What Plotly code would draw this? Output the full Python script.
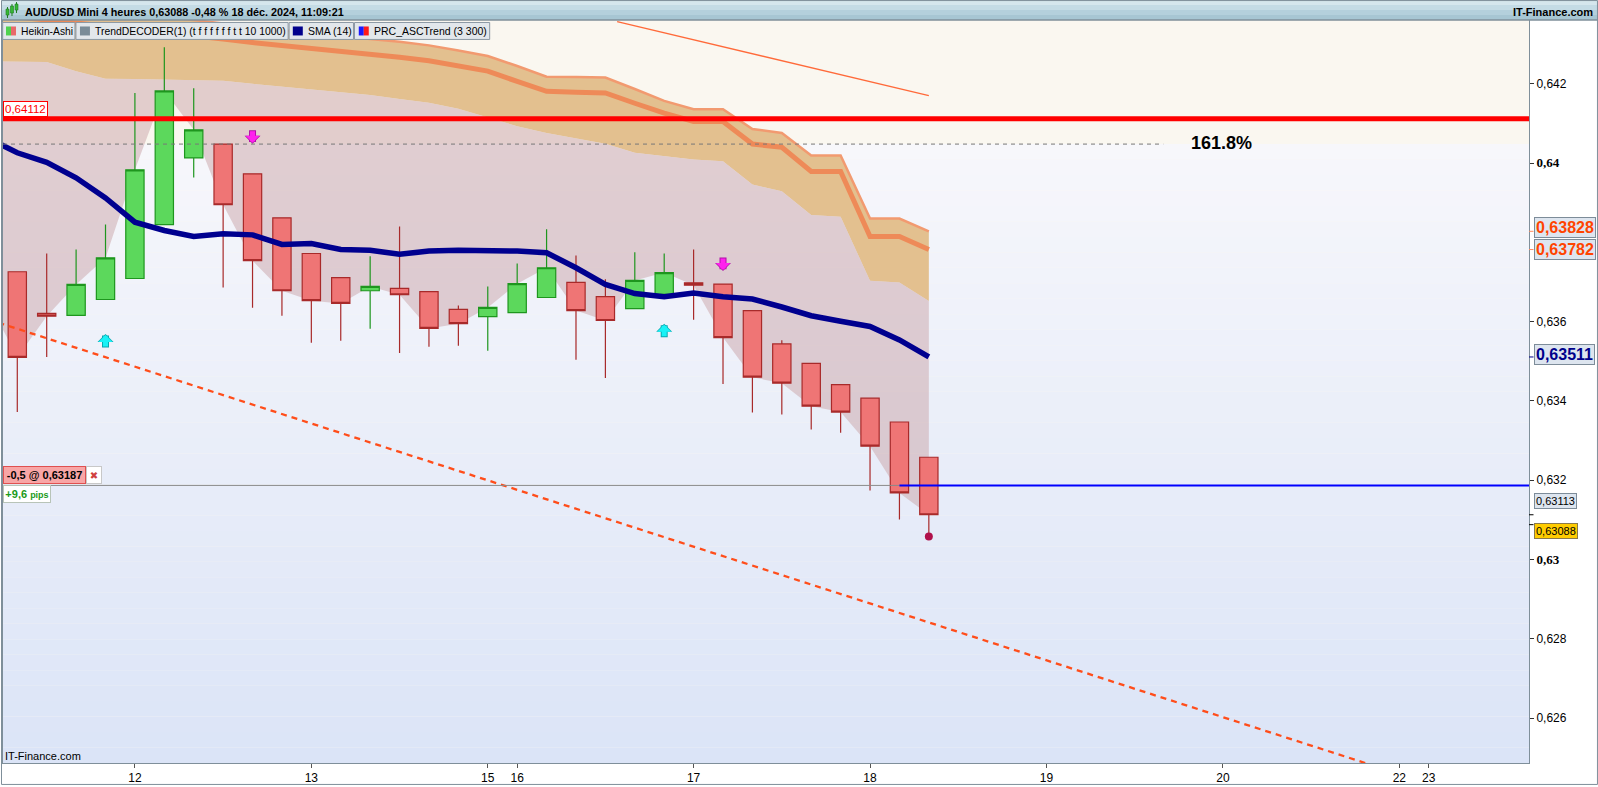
import plotly.graph_objects as go

# ---------------- data ----------------
candle_index = list(range(-1, 32))   # 4-hour Heikin-Ashi candles, index 0 = first visible candle

ha_open = [0.63799, 0.63726, 0.63621, 0.63616, 0.63656, 0.63709, 0.63845, 0.64013, 0.64048, 0.63973,
           0.63862, 0.63772, 0.63711, 0.63678, 0.63684, 0.63676, 0.63631, 0.63613, 0.63623, 0.63661,
           0.63699, 0.63663, 0.63633, 0.63669, 0.63698, 0.63695, 0.63628, 0.63544, 0.63495, 0.63441,
           0.63407, 0.63347, 0.63258]
ha_high = [0.63799, 0.63726, 0.63772, 0.63782, 0.63845, 0.64177, 0.64292, 0.64189, 0.64048, 0.63973,
           0.63862, 0.63772, 0.63711, 0.63765, 0.63840, 0.63676, 0.63641, 0.63689, 0.63747, 0.63833,
           0.63767, 0.63707, 0.63775, 0.63772, 0.63782, 0.63695, 0.63628, 0.63553, 0.63495, 0.63441,
           0.63407, 0.63347, 0.63258]
ha_low = [0.63600, 0.63372, 0.63511, 0.63616, 0.63656, 0.63709, 0.63845, 0.63964, 0.63686, 0.63635,
          0.63615, 0.63547, 0.63552, 0.63582, 0.63521, 0.63537, 0.63539, 0.63527, 0.63623, 0.63661,
          0.63504, 0.63458, 0.63633, 0.63669, 0.63605, 0.63443, 0.63371, 0.63366, 0.63328, 0.63320,
          0.63174, 0.63101, 0.63062]
ha_close = [0.63653, 0.63510, 0.63614, 0.63694, 0.63761, 0.63983, 0.64182, 0.64084, 0.63895, 0.63754,
            0.63678, 0.63653, 0.63646, 0.63689, 0.63668, 0.63583, 0.63595, 0.63636, 0.63696, 0.63736,
            0.63628, 0.63603, 0.63704, 0.63724, 0.63692, 0.63560, 0.63460, 0.63445, 0.63387, 0.63372,
            0.63286, 0.63168, 0.63113]

sma14 = [0.64063, 0.64026, 0.64002, 0.63963, 0.63912, 0.63851, 0.63830, 0.63815, 0.63822, 0.63819,
         0.63795, 0.63797, 0.63782, 0.63780, 0.63770, 0.63778, 0.63780, 0.63780, 0.63778, 0.63774,
         0.63736, 0.63694, 0.63671, 0.63663, 0.63672, 0.63663, 0.63657, 0.63637, 0.63615, 0.63601,
         0.63588, 0.63554, 0.63511]

band_upper = [0.64415, 0.64408, 0.64400, 0.64393, 0.64385, 0.64376, 0.64369, 0.64361, 0.64352, 0.64343,
              0.64336, 0.64328, 0.64321, 0.64313, 0.64306, 0.64297, 0.64284, 0.64270, 0.64245, 0.64218,
              0.64217, 0.64216, 0.64187, 0.64157, 0.64136, 0.64136, 0.64086, 0.64076, 0.64019, 0.64019,
              0.63860, 0.63860, 0.63828]
band_mid = [0.64376, 0.64369, 0.64361, 0.64354, 0.64346, 0.64337, 0.64330, 0.64322, 0.64313, 0.64304,
            0.64297, 0.64289, 0.64282, 0.64274, 0.64267, 0.64258, 0.64245, 0.64232, 0.64206, 0.64181,
            0.64179, 0.64177, 0.64151, 0.64126, 0.64105, 0.64105, 0.64048, 0.64040, 0.63979, 0.63979,
            0.63815, 0.63815, 0.63782]
band_lower = [0.64257, 0.64256, 0.64255, 0.64232, 0.64213, 0.64212, 0.64211, 0.64210, 0.64208, 0.64200,
              0.64193, 0.64186, 0.64180, 0.64172, 0.64162, 0.64152, 0.64137, 0.64115, 0.64093, 0.64076,
              0.64063, 0.64049, 0.64026, 0.64017, 0.64009, 0.64005, 0.63946, 0.63929, 0.63869, 0.63865,
              0.63703, 0.63699, 0.63652]

day_tick_index = [4, 10, 16, 17, 23, 29, 35, 41, 47, 48]
day_tick_label = ["12", "13", "15", "16", "17", "18", "19", "20", "22", "23"]

price_ticks = [0.626, 0.628, 0.630, 0.632, 0.634, 0.636, 0.640, 0.642]
price_tick_labels = ["0,626", "0,628", "0,63", "0,632", "0,634", "0,636", "0,64", "0,642"]

resistance_level = 0.64112
fib_level = 0.64048
fib_label = "161.8%"
order_price = 0.63187
order_start_index = 30
trend_dash_index = [-1, 46]
trend_dash_price = [0.63606, 0.62483]
trend_thin_index = [20.4, 31]
trend_thin_price = [0.64357, 0.64170]
up_signal_index = [3, 22]
up_signal_price = [0.63569, 0.63595]
down_signal_index = [8, 24]
down_signal_price = [0.64049, 0.63728]
low_mark_index = [31]
low_mark_price = [0.63058]
last_price = 0.63088

# ---------------- layout helpers ----------------
W, H = 1598, 787
ML, MR, MT, MB = 2, 69, 20, 22
PW, PH = W - ML - MR, H - MT - MB
Y_RANGE = [0.624868, 0.643610]
X_RANGE = [-0.486, 51.41]
FONT = "Liberation Sans, Arial, sans-serif"
FRAME = "#7f8f9a"


def fx(px):
    return (px - ML) / PW


def fy(py):
    return (H - MB - py) / PH


fig = go.Figure()

# ---- base subplot (y): clouds ----
fig.add_trace(go.Scatter(x=candle_index, y=band_lower, mode="lines", line=dict(width=0),
                         hoverinfo="skip", showlegend=False))
fig.add_trace(go.Scatter(x=candle_index, y=band_upper, mode="lines", line=dict(width=0),
                         fill="tonexty", fillcolor="#e3c08f", hoverinfo="skip", showlegend=False))
fig.add_trace(go.Scatter(x=candle_index, y=band_lower, mode="lines", line=dict(width=0),
                         hoverinfo="skip", showlegend=False))
fig.add_trace(go.Scatter(x=candle_index, y=ha_close, mode="lines", line=dict(width=0),
                         fill="tonexty", fillcolor="rgba(204,166,170,0.52)", hoverinfo="skip",
                         showlegend=False))
fig.add_trace(go.Scatter(x=candle_index, y=band_upper, mode="lines",
                         line=dict(color="#f29a70", width=2.5), hoverinfo="skip", showlegend=False))
fig.add_trace(go.Scatter(x=candle_index, y=band_mid, mode="lines",
                         line=dict(color="#ee8a58", width=5), hoverinfo="skip", showlegend=False))

# ---- overlay subplot (y2): candles, trend lines, SMA, markers on top of the clouds ----
fig.add_trace(go.Candlestick(
    x=candle_index, open=ha_open, high=ha_high, low=ha_low, close=ha_close, yaxis="y2",
    increasing=dict(fillcolor="#5cd85c", line=dict(color="#1e961e", width=1.2)),
    decreasing=dict(fillcolor="#ef7575", line=dict(color="#a82a2a", width=1.2)),
    whiskerwidth=0, hoverinfo="skip", showlegend=False))
fig.add_trace(go.Scatter(x=trend_dash_index, y=trend_dash_price, mode="lines", yaxis="y2",
                         line=dict(color="#ff4d1a", width=2.3, dash="6px,5px"),
                         hoverinfo="skip", showlegend=False))
fig.add_trace(go.Scatter(x=trend_thin_index, y=trend_thin_price, mode="lines", yaxis="y2",
                         line=dict(color="#ff6a3a", width=1.3), hoverinfo="skip", showlegend=False))
fig.add_trace(go.Scatter(x=candle_index, y=sma14, mode="lines", yaxis="y2",
                         line=dict(color="#00008f", width=5.5),
                         hoverinfo="skip", showlegend=False))
fig.add_trace(go.Scatter(x=low_mark_index, y=low_mark_price, mode="markers", yaxis="y2",
                         marker=dict(color="#b0104a", size=8), hoverinfo="skip", showlegend=False))

shapes = []
# background: cream above fib level, bluish gradient below
n_bands = 40
c_top = (247, 247, 251)
c_bot = (219, 228, 247)
for k in range(n_bands):
    t0 = k / n_bands
    t1 = (k + 1) / n_bands
    y1 = fib_level - (fib_level - Y_RANGE[0]) * t0
    y0 = fib_level - (fib_level - Y_RANGE[0]) * t1
    tm = (t0 + t1) / 2
    col = "rgb(%d,%d,%d)" % tuple(round(a + (b - a) * tm) for a, b in zip(c_top, c_bot))
    shapes.append(dict(type="rect", xref="paper", yref="y", x0=0, x1=1, y0=y0, y1=y1,
                       fillcolor=col, line=dict(width=0), layer="below"))

# resistance line + fib dashed line
shapes.append(dict(type="line", xref="paper", yref="y", x0=0, x1=1,
                   y0=resistance_level, y1=resistance_level,
                   line=dict(color="#ff0000", width=5), layer="above"))
shapes.append(dict(type="line", xref="paper", yref="y", x0=0, x1=fx(1163),
                   y0=fib_level, y1=fib_level,
                   line=dict(color="#777777", width=1, dash="4px,4px"), layer="above"))
# order line (grey up to the entry candle, blue afterwards)
shapes.append(dict(type="line", xref="x", yref="y", x0=X_RANGE[0], x1=order_start_index,
                   y0=order_price, y1=order_price, line=dict(color="#8a8a8a", width=1), layer="above"))
shapes.append(dict(type="line", xref="x", yref="y", x0=order_start_index, x1=X_RANGE[1],
                   y0=order_price, y1=order_price, line=dict(color="#0000ff", width=2), layer="above"))

# header bar
hdr_cols = ["#d5e6ed", "#c4dbe5", "#b4d0dc", "#a7c6d3"]
for k, c in enumerate(hdr_cols):
    shapes.append(dict(type="rect", xref="paper", yref="paper",
                       x0=fx(0), x1=fx(W), y0=fy(5 * (k + 1)), y1=fy(5 * k),
                       fillcolor=c, line=dict(width=0), layer="above"))
shapes.append(dict(type="line", xref="paper", yref="paper", x0=fx(0), x1=fx(W),
                   y0=fy(20), y1=fy(20), line=dict(color=FRAME, width=1.5), layer="above"))
# tiny candle icon in header
for (x0, x1, y0, y1, c) in [(5, 8, 9, 15, "#35b835"), (9.5, 12.5, 6, 13, "#35b835"), (14, 17, 4, 10, "#35b835")]:
    shapes.append(dict(type="line", xref="paper", yref="paper", x0=fx((x0 + x1) / 2), x1=fx((x0 + x1) / 2),
                       y0=fy(y1 + 3), y1=fy(y0 - 2), line=dict(color="#1e7a1e", width=1), layer="above"))
    shapes.append(dict(type="rect", xref="paper", yref="paper", x0=fx(x0), x1=fx(x1),
                       y0=fy(y1), y1=fy(y0), fillcolor=c, line=dict(color="#1e7a1e", width=0.6),
                       layer="above"))

# legend row boxes
legend_boxes = [(1.7, 74), (75, 287.3), (288.3, 352.7), (353.7, 489)]
for (a, b) in legend_boxes:
    shapes.append(dict(type="rect", xref="paper", yref="paper", x0=fx(a), x1=fx(b),
                       y0=fy(39.5), y1=fy(22.5), fillcolor="#e2e7eb",
                       line=dict(color="#8c99a4", width=1), layer="above"))
icon_defs = [(5, 10, "#4fd24f"), (10, 15, "#e86a6a"), (79, 89, "#7a8c98"), (292, 302, "#00008b"),
             (358, 363, "#1a1aff"), (363, 368, "#ff1a1a")]
for (a, b, c) in icon_defs:
    shapes.append(dict(type="rect", xref="paper", yref="paper", x0=fx(a), x1=fx(b),
                       y0=fy(35.5), y1=fy(26.5), fillcolor=c, line=dict(width=0), layer="above"))

# outer frame
shapes.append(dict(type="rect", xref="paper", yref="paper", x0=fx(0.5), x1=fx(W - 0.5),
                   y0=fy(H - 0.5), y1=fy(0.5), line=dict(color=FRAME, width=1),
                   fillcolor="rgba(0,0,0,0)", layer="above"))

annotations = []


def text_px(text, px, py, size=11, color="black", xanchor="left", **kw):
    d = dict(text=text, xref="paper", yref="paper", x=fx(px), y=fy(py), xanchor=xanchor,
             yanchor="middle", showarrow=False, font=dict(family=FONT, size=size, color=color))
    d.update(kw)
    annotations.append(d)


text_px("<b>AUD/USD Mini 4 heures 0,63088 -0,48 % 18 déc. 2024, 11:09:21</b>", 22, 12, size=10.8)
text_px("<b>IT-Finance.com</b>", 1595, 12, size=11, xanchor="right")
text_px("Heikin-Ashi", 18.5, 31.5, size=10.3)
text_px("TrendDECODER(1) (t f f f f f f t t 10 1000)", 92.5, 31.5, size=10.4)
text_px("SMA (14)", 305.5, 31.5, size=10.5)
text_px("PRC_ASCTrend (3 300)", 371.5, 31.5, size=10.5)
text_px("IT-Finance.com", 2, 758, size=11)
text_px("<b>" + fib_label + "</b>", 1221, 143, size=18, xanchor="center")

# left price boxes
annotations.append(dict(text="0,64112", xref="paper", yref="y", x=fx(2), y=resistance_level,
                        xanchor="left", yanchor="middle", yshift=10, showarrow=False,
                        font=dict(family=FONT, size=11.5, color="#ff0000"),
                        bgcolor="white", bordercolor="#ff0000", borderwidth=1, borderpad=1))
annotations.append(dict(text="<b>-0,5 @ 0,63187</b>", xref="paper", yref="y", x=fx(2), y=order_price,
                        xanchor="left", yanchor="middle", yshift=10, showarrow=False,
                        width=79, height=14, align="center",
                        font=dict(family=FONT, size=11, color="black"),
                        bgcolor="#f8a6a6", bordercolor="#e05050", borderwidth=1, borderpad=1))
annotations.append(dict(text="✖", xref="paper", yref="y", x=fx(85.5), y=order_price,
                        xanchor="left", yanchor="middle", yshift=10, showarrow=False,
                        width=12, height=14,
                        font=dict(family="DejaVu Sans", size=10, color="#d04040"),
                        bgcolor="white", bordercolor="#c8c8c8", borderwidth=1, borderpad=1))
annotations.append(dict(text="<b>+9,6</b> <b><span style='font-size:9px'>pips</span></b>",
                        xref="paper", yref="y", x=fx(2), y=order_price,
                        xanchor="left", yanchor="middle", yshift=-8.5, showarrow=False,
                        width=44, height=14,
                        font=dict(family=FONT, size=11, color="#1a9a1a"),
                        bgcolor="white", bordercolor="#b8c4b8", borderwidth=1, borderpad=1))

# right axis value boxes
right_boxes = [
    ("<b>0,63828</b>", band_upper[-1], 3.5, 16, "#ff4400", "#dde5ef", "#7d8c99"),
    ("<b>0,63782</b>", band_mid[-1], 0, 16, "#ff4400", "#dde5ef", "#7d8c99"),
    ("<b>0,63511</b>", sma14[-1], 2.5, 16, "#00008b", "#dde5ef", "#7d8c99"),
    ("0,63113", ha_close[-1], 14, 11, "black", "#dde5ef", "#7d8c99"),
    ("0,63088", last_price, -6, 11, "black", "#ffcc00", "#8a7a4a"),
]
for (t, v, ys, sz, c, bg, bc) in right_boxes:
    annotations.append(dict(text=t, xref="paper", yref="y", x=fx(1534), y=v, xanchor="left",
                            yanchor="middle", yshift=ys, showarrow=False,
                            font=dict(family=FONT, size=sz, color=c),
                            bgcolor=bg, bordercolor=bc, borderwidth=1, borderpad=1))
for (v, c) in [(band_upper[-1], "#ff8a60"), (band_mid[-1], "#ff8a60"), (sma14[-1], "#00008b"),
               (ha_close[-1], "black"), (last_price, "black")]:
    annotations.append(dict(text="", xref="paper", yref="y", x=1, y=v, ax=6, ay=0,
                            showarrow=True, arrowhead=0, arrowwidth=1, arrowcolor=c, standoff=0))

# signal arrows (outline + fill)
for i, p in zip(up_signal_index, up_signal_price):
    annotations.append(dict(text="", xref="x", yref="y", x=i, y=p, ax=0, ay=15, showarrow=True,
                            arrowhead=1, arrowwidth=7, arrowsize=0.38, arrowcolor="#0aa8b0",
                            standoff=0))
    annotations.append(dict(text="", xref="x", yref="y", x=i, y=p, ax=0, ay=14, showarrow=True,
                            arrowhead=1, arrowwidth=5, arrowsize=0.47, arrowcolor="#19f2f6",
                            standoff=1))
for i, p in zip(down_signal_index, down_signal_price):
    annotations.append(dict(text="", xref="x", yref="y", x=i, y=p, ax=0, ay=-15, showarrow=True,
                            arrowhead=1, arrowwidth=7, arrowsize=0.38, arrowcolor="#b010a8",
                            standoff=0))
    annotations.append(dict(text="", xref="x", yref="y", x=i, y=p, ax=0, ay=-14, showarrow=True,
                            arrowhead=1, arrowwidth=5, arrowsize=0.47, arrowcolor="#ff22ee",
                            standoff=1))

fig.update_layout(
    width=W, height=H,
    margin=dict(l=ML, r=MR, t=MT, b=MB, pad=0),
    paper_bgcolor="white",
    plot_bgcolor="#faf7f0",
    showlegend=False,
    hovermode=False,
    boxgap=0.378, boxgroupgap=0,
    font=dict(family=FONT, size=12, color="black"),
    shapes=shapes,
    annotations=annotations,
    xaxis=dict(range=X_RANGE, tickvals=day_tick_index, ticktext=day_tick_label,
               showgrid=False, zeroline=False, showline=True, linecolor=FRAME, linewidth=1,
               mirror=True, ticks="outside", ticklen=4, tickcolor="#555555",
               tickfont=dict(family=FONT, size=12, color="black"),
               rangeslider=dict(visible=False), fixedrange=True),
    yaxis=dict(range=Y_RANGE, side="right", tickvals=price_ticks,
               ticktext=["<b><span style='font-family:Liberation Serif;font-size:13px'>%s</span></b>" % t
                         if t in ("0,63", "0,64") else t for t in price_tick_labels],
               showgrid=False, zeroline=False, showline=True, linecolor=FRAME, linewidth=1,
               mirror=True, ticks="outside", ticklen=4, tickcolor="#333333",
               tickfont=dict(family=FONT, size=12, color="black"), fixedrange=True),
    yaxis2=dict(range=Y_RANGE, overlaying="y", side="right", visible=False,
                showgrid=False, zeroline=False, fixedrange=True),
)

fig.write_html("out.html", config=dict(displayModeBar=False),
               post_script="document.body.style.margin='0';document.body.style.overflow='hidden';")
